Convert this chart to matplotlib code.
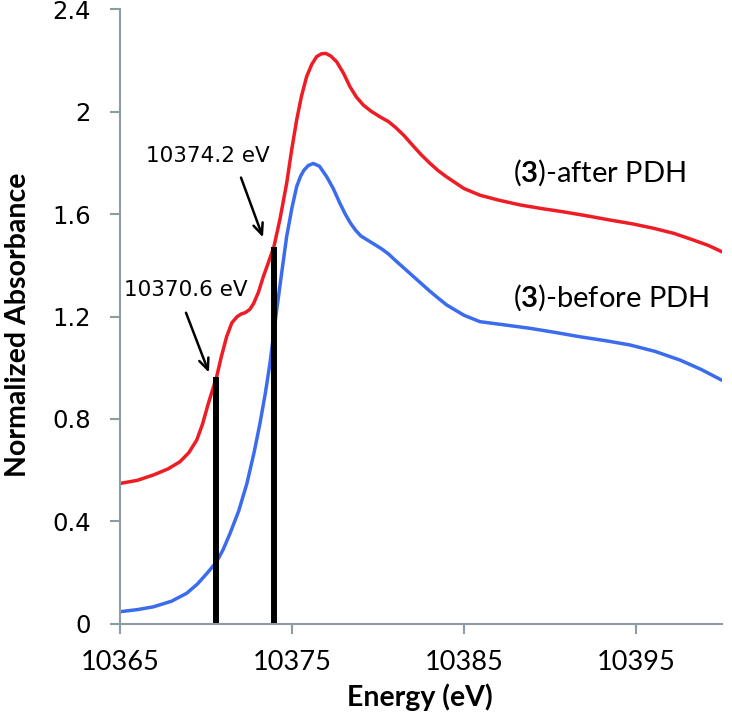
import matplotlib
matplotlib.use("Agg")
import matplotlib.pyplot as plt

# datos
energia_despues = [10365.0, 10366.0, 10366.94, 10367.8, 10368.49, 10369.0, 10369.46, 10369.8,
                   10370.14, 10370.62, 10370.9, 10371.2, 10371.5, 10371.8, 10372.05, 10372.28,
                   10372.55, 10372.77, 10373.05, 10373.33, 10373.65, 10373.95, 10374.3, 10374.69,
                   10374.98, 10375.27, 10375.55, 10375.85, 10376.15, 10376.43, 10376.7, 10376.96,
                   10377.25, 10377.6, 10378.0, 10378.37, 10378.75, 10379.15, 10379.6, 10380.12,
                   10380.6, 10381.0, 10381.5, 10382.0, 10382.5, 10383.0, 10383.5, 10384.0,
                   10385.0, 10385.93, 10387.0, 10388.26, 10389.5, 10390.78, 10392.1, 10393.49,
                   10394.8, 10396.01, 10397.2, 10398.33, 10399.2, 10400.0]
abs_despues = [0.548, 0.560, 0.581, 0.605, 0.633, 0.668, 0.717, 0.780,
               0.861, 0.965, 1.045, 1.121, 1.175, 1.199, 1.210, 1.215,
               1.228, 1.251, 1.295, 1.355, 1.415, 1.473, 1.58, 1.720,
               1.850, 1.967, 2.06, 2.137, 2.185, 2.215, 2.226, 2.228,
               2.218, 2.195, 2.15, 2.098, 2.057, 2.026, 2.002, 1.98,
               1.962, 1.940, 1.908, 1.870, 1.833, 1.800, 1.770, 1.745,
               1.700, 1.674, 1.655, 1.636, 1.622, 1.609, 1.594, 1.577,
               1.562, 1.545, 1.525, 1.499, 1.478, 1.453]

energia_antes = [10365.0, 10366.0, 10366.94, 10368.0, 10368.88, 10369.5, 10370.06, 10370.62,
                 10371.0, 10371.4, 10371.9, 10372.38, 10372.8, 10373.14, 10373.45, 10373.72,
                 10374.11, 10374.4, 10374.69, 10375.0, 10375.27, 10375.5, 10375.7, 10375.95,
                 10376.24, 10376.6, 10377.02, 10377.4, 10377.79, 10378.1, 10378.4, 10378.7,
                 10379.0, 10379.6, 10380.2, 10380.6, 10381.0, 10381.5, 10382.0, 10382.5,
                 10383.0, 10383.5, 10384.0, 10385.0, 10385.93, 10387.4, 10388.84, 10390.3,
                 10391.74, 10393.2, 10394.65, 10396.1, 10397.56, 10398.8, 10400.0]
abs_antes = [0.047, 0.055, 0.066, 0.088, 0.119, 0.155, 0.197, 0.242,
             0.29, 0.353, 0.44, 0.548, 0.67, 0.783, 0.90, 1.017,
             1.225, 1.37, 1.512, 1.625, 1.707, 1.748, 1.772, 1.790,
             1.798, 1.787, 1.746, 1.700, 1.642, 1.600, 1.565, 1.537,
             1.515, 1.490, 1.465, 1.445, 1.420, 1.390, 1.360, 1.330,
             1.300, 1.272, 1.245, 1.205, 1.180, 1.167, 1.154, 1.138,
             1.121, 1.106, 1.089, 1.064, 1.030, 0.993, 0.951]

# barras verticales (posicion y altura)
barras_x = [10370.6, 10373.95]
barras_alto = [0.965, 1.473]
barras_texto = ["10370.6 eV", "10374.2 eV"]

xticks = [10365, 10375, 10385, 10395]
yticks = [0, 0.4, 0.8, 1.2, 1.6, 2, 2.4]

plt.rcParams['mathtext.fontset'] = 'custom'
plt.rcParams['mathtext.rm'] = 'Lato'
plt.rcParams['mathtext.bf'] = 'Lato:bold'

gris = '#8C9CA3'

fig = plt.figure(figsize=(7.32, 7.19), dpi=100)
ax = fig.add_axes([0.1639, 0.1325, 0.8224, 0.8545])

ax.plot(energia_despues, abs_despues, color='#EE1C25', lw=2.5, solid_capstyle='round', solid_joinstyle='round')
ax.plot(energia_antes, abs_antes, color='#3C6CEE', lw=2.5, solid_capstyle='round', solid_joinstyle='round')

for xb, hb in zip(barras_x, barras_alto):
    ax.plot([xb, xb], [0, hb], color='black', lw=4.3, solid_capstyle='butt')

# flechas y textos
ax.annotate("", xy=(10370.23, 0.971), xytext=(10368.78, 1.225),
            arrowprops=dict(arrowstyle='->,head_length=0.8,head_width=0.35', lw=1.8, color='black'))
ax.annotate("", xy=(10373.37, 1.499), xytext=(10371.98, 1.753),
            arrowprops=dict(arrowstyle='->,head_length=0.8,head_width=0.35', lw=1.8, color='black'))
ax.text(10368.84, 1.303, barras_texto[0], fontsize=15.5, family='DejaVu Sans', ha='center', va='center')
ax.text(10370.12, 1.827, barras_texto[1], fontsize=15.5, family='DejaVu Sans', ha='center', va='center')

ax.text(10387.85, 1.76, r"($\mathbf{3}$)-after PDH", fontsize=21, family='Lato', ha='left', va='center')
ax.text(10387.85, 1.272, r"($\mathbf{3}$)-before PDH", fontsize=21, family='Lato', ha='left', va='center')

ax.set_xlim(10365, 10400)
ax.set_ylim(0, 2.4)
ax.set_xticks(xticks)
ax.set_xticklabels([str(t) for t in xticks], fontsize=19.5, family='Lato')
ax.set_yticks(yticks)
ax.set_yticklabels(['%g' % t for t in yticks], fontsize=17.5, family='DejaVu Sans')

for s in ['top', 'right']:
    ax.spines[s].set_visible(False)
for s in ['left', 'bottom']:
    ax.spines[s].set_color(gris)
    ax.spines[s].set_linewidth(1.5)
ax.tick_params(axis='both', direction='out', length=7, width=1.5, color=gris)
ax.tick_params(axis='x', pad=12)
ax.tick_params(axis='y', pad=14)

ax.set_xlabel('Energy (eV)', fontsize=20.5, fontweight='bold', family='Lato')
ax.set_ylabel('Normalized Absorbance', fontsize=20.5, fontweight='bold', family='Lato')
ax.xaxis.set_label_coords(0.498, -0.097)
ax.yaxis.set_label_coords(-0.148, 0.487)

fig.savefig('out.png', dpi=100)
